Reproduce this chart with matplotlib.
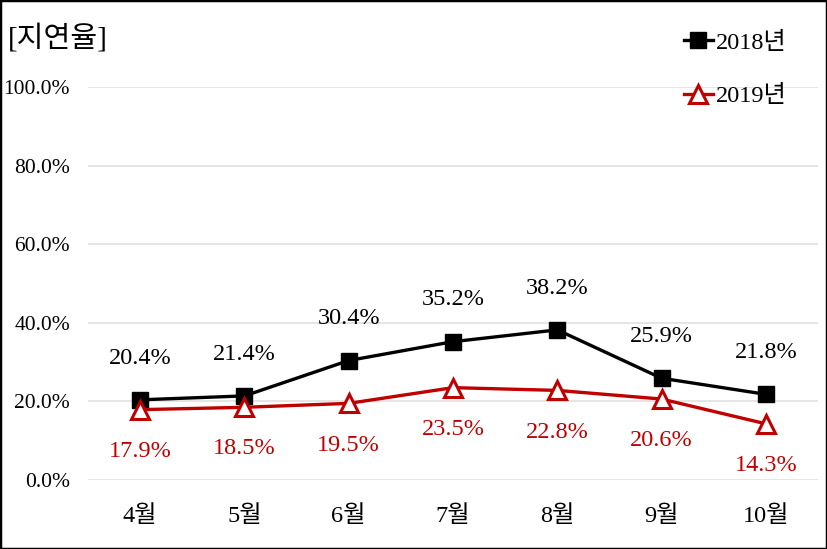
import matplotlib
matplotlib.use("Agg")
import matplotlib.pyplot as plt
from matplotlib.patches import Rectangle

plt.rcParams["font.family"] = ["Liberation Serif", "Noto Sans CJK KR"]

months = ["4월", "5월", "6월", "7월", "8월", "9월", "10월"]
rate_2018 = [20.4, 21.4, 30.4, 35.2, 38.2, 25.9, 21.8]
rate_2019 = [17.9, 18.5, 19.5, 23.5, 22.8, 20.6, 14.3]
yticks = [0, 20, 40, 60, 80, 100]

RED = "#c00000"

fig = plt.figure(figsize=(8.27, 5.49), dpi=100)
ax = fig.add_axes([88 / 827, 69 / 549, 730 / 827, 393 / 549])

x = list(range(len(months)))
ax.plot(x, rate_2018, color="black", linewidth=2.4, marker="s", markersize=11,
        label="2018년", zorder=3)
ax.plot(x, rate_2019, color=RED, linewidth=2.4, marker="^", markersize=13,
        markerfacecolor="white", markeredgecolor=RED, markeredgewidth=2.2,
        label="2019년", zorder=4)

for xi, v in zip(x, rate_2018):
    ax.annotate(f"{v:.1f}%", (xi, v), xytext=(0, 30), textcoords="offset points",
                ha="center", va="center", fontsize=17.5, color="black")
for xi, v in zip(x, rate_2019):
    ax.annotate(f"{v:.1f}%", (xi, v), xytext=(0, -30), textcoords="offset points",
                ha="center", va="center", fontsize=17.5, color=RED)

ax.set_xlim(-0.5, len(months) - 0.5)
ax.set_ylim(0, 100)
ax.set_xticks(x)
ax.set_xticklabels(months, fontsize=17.5)
ax.set_yticks(yticks)
ax.set_yticklabels([f"{t:.1f}%" for t in yticks], fontsize=15.5)
ax.tick_params(axis="both", length=0)
ax.tick_params(axis="x", pad=18)
ax.tick_params(axis="y", pad=13)
ax.grid(axis="y", color="#e0e0e0", linewidth=1.2)
ax.set_axisbelow(True)
for spine in ax.spines.values():
    spine.set_visible(False)

fig.text(8 / 827, 1 - 38 / 549, "[지연율]", fontsize=21, ha="left", va="center")

ax.legend(loc="upper right", bbox_to_anchor=(796 / 827, 1 - 22 / 549),
          bbox_transform=fig.transFigure, frameon=False, fontsize=17.5,
          handlelength=1.2, handletextpad=0.1, labelspacing=1.3,
          borderaxespad=0)

fig.patches.append(Rectangle((0, 0), 1, 1, transform=fig.transFigure, fill=False,
                             edgecolor="black", linewidth=2.5))

fig.savefig("out.png", dpi=100)
